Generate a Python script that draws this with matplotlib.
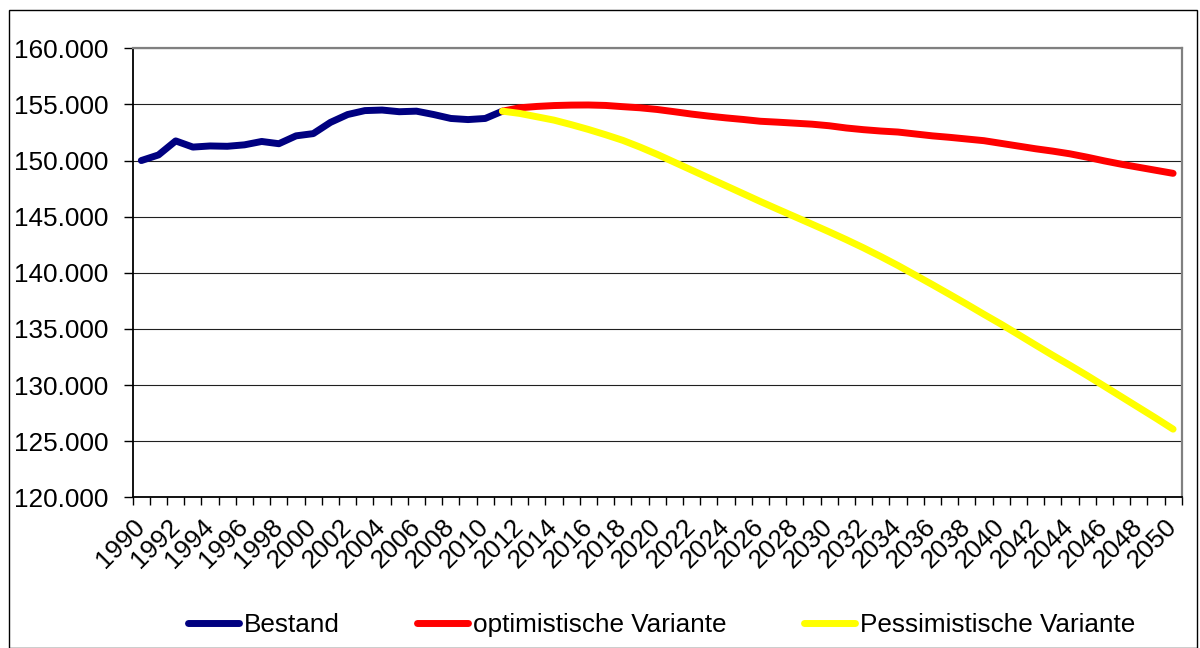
import matplotlib
matplotlib.use("Agg")
import matplotlib.pyplot as plt
from matplotlib.ticker import FuncFormatter, MultipleLocator
from matplotlib.patches import Rectangle
import numpy as np

plt.rcParams['font.family'] = ['Liberation Sans', 'DejaVu Sans']

years_bestand = list(range(1990, 2012))
bestand = [150000, 150500, 151750, 151200, 151300, 151270, 151400, 151700, 151500,
           152200, 152400, 153400, 154100, 154450, 154500, 154350, 154400, 154100,
           153750, 153650, 153750, 154400]

years_proj = list(range(2011, 2051))
optimistisch = [154400, 154700, 154820, 154900, 154940, 154950, 154910, 154800, 154700,
                154550, 154350, 154140, 153960, 153800, 153660, 153500, 153420, 153330,
                153240, 153100, 152900, 152750, 152630, 152540, 152370, 152200, 152070,
                151920, 151770, 151530, 151290, 151050, 150840, 150600, 150300, 149970,
                149670, 149400, 149130, 148860]
pessimistisch = [154400, 154200, 153900, 153600, 153200, 152770, 152300, 151800, 151200,
                 150550, 149850, 149150, 148450, 147750, 147050, 146350, 145670, 145000,
                 144330, 143650, 142950, 142220, 141450, 140650, 139800, 138950, 138080,
                 137200, 136300, 135420, 134500, 133570, 132650, 131760, 130850, 129900,
                 128950, 128000, 127050, 126070]

labels = ["Bestand", "optimistische Variante", "Pessimistische Variante"]
colors = ["#000080", "#FF0000", "#FFFF00"]
tick_years = list(range(1990, 2051, 2))

FS = 18.8
W, H = 1200, 648
fig = plt.figure(figsize=(W / 100, H / 100), dpi=100)
ax = fig.add_axes([132.7 / W, 1 - 497.3 / H, (1181.7 - 132.7) / W, (497.3 - 48.3) / H])

lw = 5.0
ax.plot(years_bestand, bestand, color=colors[0], lw=lw, label=labels[0],
        solid_capstyle='round', solid_joinstyle='round', zorder=3)
ax.plot(years_proj, optimistisch, color=colors[1], lw=lw, label=labels[1],
        solid_capstyle='round', solid_joinstyle='round', zorder=4)
ax.plot(years_proj, pessimistisch, color=colors[2], lw=lw, label=labels[2],
        solid_capstyle='round', solid_joinstyle='round', zorder=5)

ax.set_xlim(1989.5, 2050.5)
ax.set_ylim(120000, 160000)
ax.yaxis.set_major_locator(MultipleLocator(5000))
ax.yaxis.set_major_formatter(FuncFormatter(lambda v, p: f"{int(round(v)):,}".replace(",", ".")))
ax.yaxis.grid(True, color='#202020', lw=0.8, zorder=1)
ax.set_axisbelow(True)
ax.tick_params(axis='y', length=8.7 * 0.72, width=1, pad=11.3, labelsize=FS, direction='out')

ax.set_xticks(tick_years)
ax.set_xticklabels([str(y) for y in tick_years])
ax.set_xticks(np.arange(1989.5, 2051.0, 1.0), minor=True)
ax.tick_params(axis='x', which='major', length=0, pad=18.5, labelsize=FS)
ax.tick_params(axis='x', which='minor', length=7.7 * 0.72, width=1, direction='out')
for t in ax.get_xticklabels():
    t.set_rotation(45)
    t.set_ha('right')
    t.set_va('center')
    t.set_rotation_mode('anchor')

for s in ['left', 'bottom']:
    ax.spines[s].set_color('black')
    ax.spines[s].set_linewidth(1.3)
for s in ['top', 'right']:
    ax.spines[s].set_color('#808080')
    ax.spines[s].set_linewidth(1.6)

leg = fig.legend(loc='center', bbox_to_anchor=(661.5 / W, 1 - 625 / H), ncol=3,
                 frameon=False, fontsize=FS, handlelength=1.95, handletextpad=0.2,
                 columnspacing=2.95, borderaxespad=0)
for l in leg.get_lines():
    l.set_linewidth(lw)
    l.set_solid_capstyle('round')

fig.patches.append(Rectangle((9 / W, 0), (1197 - 9) / W, 1 - 10 / H,
                             transform=fig.transFigure, fill=False,
                             edgecolor='black', lw=1.0))

fig.savefig("out.png", dpi=100)
